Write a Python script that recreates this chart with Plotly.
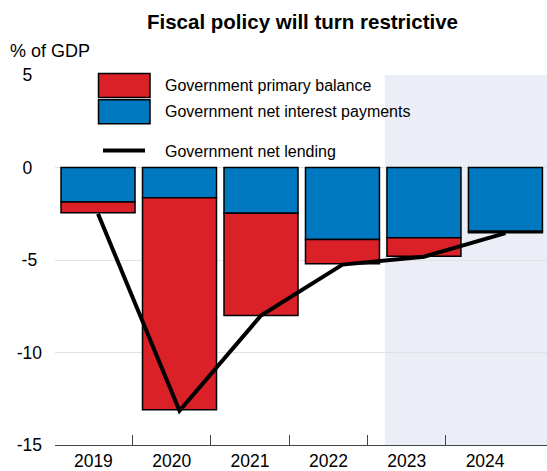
import plotly.graph_objects as go

years = ["2019", "2020", "2021", "2022", "2023", "2024"]
interest = [-1.86, -1.63, -2.47, -3.89, -3.80, -3.45]
primary = [-0.58, -11.47, -5.53, -1.31, -1.00, -0.08]
net_lending = [-2.50, -13.15, -8.00, -5.25, -4.82, -3.55]
y_ticks = [5, 0, -5, -10, -15]
y_ticktext = ["5\u00a0\u00a0", "0\u00a0\u00a0", "-5\u00a0", "-10", "-15"]

RED = "#DA2128"
BLUE = "#0079C1"
SHADE = "#ECEEF7"
FONT = "Liberation Sans, Arial, sans-serif"

W, H = 547, 471
L, R, T, B = 55, 0, 75, 24
PW, PH = W - L - R, H - T - B

def px(xp):
    return (xp - L) / PW

def py(yp):
    return (H - B - yp) / PH

idx = list(range(len(years)))

fig = go.Figure()
fig.add_trace(go.Bar(x=idx, y=interest, marker=dict(color=BLUE, line=dict(color="black", width=1.5)),
                     name="Government net interest payments", xaxis="x", yaxis="y"))
fig.add_trace(go.Bar(x=idx, y=primary, marker=dict(color=RED, line=dict(color="black", width=1.5)),
                     name="Government primary balance", xaxis="x", yaxis="y"))
fig.add_trace(go.Scatter(x=idx, y=net_lending, mode="lines", line=dict(color="black", width=4),
                         name="Government net lending", xaxis="x", yaxis="y"))

shapes = [
    dict(type="rect", xref="x", yref="paper", x0=3.52, x1=5.6, y0=0, y1=1,
         fillcolor=SHADE, line=dict(width=0), layer="below"),
    # legend swatches
    dict(type="rect", xref="paper", yref="paper", x0=px(98.5), x1=px(150), y0=py(97.5), y1=py(73.5),
         fillcolor=RED, line=dict(color="black", width=1.5)),
    dict(type="rect", xref="paper", yref="paper", x0=px(98.5), x1=px(150), y0=py(124), y1=py(100),
         fillcolor=BLUE, line=dict(color="black", width=1.5)),
    dict(type="line", xref="paper", yref="paper", x0=px(103), x1=px(145), y0=py(151), y1=py(151),
         line=dict(color="black", width=4)),
]

LEG = 16
annotations = [
    dict(text="Government primary balance", xref="paper", yref="paper", x=px(163), y=py(86),
         xanchor="left", yanchor="middle", showarrow=False, font=dict(size=LEG, color="black", family=FONT)),
    dict(text="Government net interest payments", xref="paper", yref="paper", x=px(163), y=py(112),
         xanchor="left", yanchor="middle", showarrow=False, font=dict(size=LEG, color="black", family=FONT)),
    dict(text="Government net lending", xref="paper", yref="paper", x=px(163), y=py(152),
         xanchor="left", yanchor="middle", showarrow=False, font=dict(size=LEG, color="black", family=FONT)),
    dict(text="% of GDP", xref="paper", yref="paper", x=px(8), y=py(51),
         xanchor="left", yanchor="middle", showarrow=False, font=dict(size=18, color="black", family=FONT)),
    dict(text="<b>Fiscal policy will turn restrictive</b>", xref="paper", yref="paper", x=px(302), y=py(21),
         xanchor="center", yanchor="middle", showarrow=False, font=dict(size=20.5, color="black", family=FONT)),
]

TICK = 17.5
fig.update_layout(
    width=W, height=H,
    margin=dict(l=L, r=R, t=T, b=B, pad=0),
    paper_bgcolor="white", plot_bgcolor="white",
    barmode="relative", bargap=0.092,
    showlegend=False,
    font=dict(family=FONT, size=15, color="black"),
    shapes=shapes, annotations=annotations,
    xaxis=dict(range=[-0.528, 5.51], showticklabels=False, ticks="", showgrid=False,
               zeroline=False, showline=False, fixedrange=True),
    xaxis2=dict(overlaying="x", anchor="y", side="bottom", range=[-0.49, 5.79],
                tickmode="array", tickvals=idx, ticktext=years, ticks="",
                showgrid=False, zeroline=False, showline=True, linecolor="#444", linewidth=1.2,
                tickfont=dict(size=TICK, family=FONT, color="black"),
                minor=dict(tickmode="array", tickvals=[-0.5, 0.5, 1.5, 2.5, 3.5, 4.5],
                           ticks="inside", ticklen=10, tickcolor="#444", tickwidth=1.2, showgrid=False)),
    yaxis=dict(range=[-15, 5], tickmode="array", tickvals=y_ticks, ticktext=y_ticktext,
               ticks="", showgrid=True, gridcolor="#E2E2E2", gridwidth=1.2,
               zeroline=False, showline=False, ticklabelstandoff=12,
               tickfont=dict(size=TICK, family=FONT, color="black")),
)

# invisible trace to activate xaxis2 (category labels axis)
fig.add_trace(go.Scatter(x=[0], y=[None], xaxis="x2", yaxis="y", showlegend=False, hoverinfo="skip"))

fig.write_html("out.html")
